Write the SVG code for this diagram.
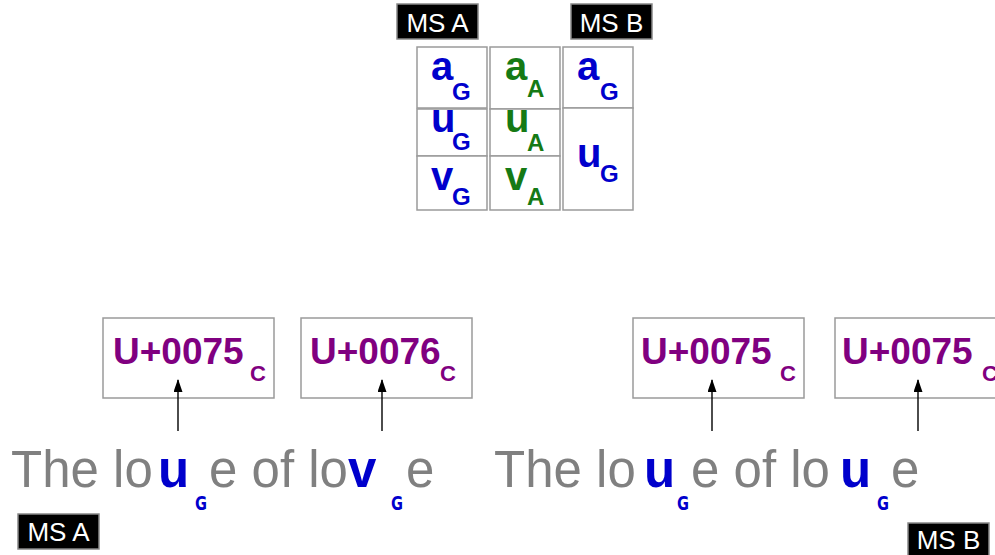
<svg xmlns="http://www.w3.org/2000/svg" width="995" height="555" viewBox="0 0 995 555">
  <style>
    .tag rect { fill: #000; stroke: #888; stroke-width: 1.5; }
    .tag text { fill: #fff; font-family: "Liberation Sans", Arial, sans-serif; font-size: 26px; text-anchor: middle; }
    .cell { fill: #fff; stroke: #9a9a9a; stroke-width: 1.5; }
    .big { font-family: "Liberation Sans", Arial, sans-serif; font-weight: bold; font-size: 40px; }
    .sub { font-family: "Liberation Sans", Arial, sans-serif; font-weight: bold; font-size: 24px; }
    .g { fill: #0000cc; }
    .a { fill: #157a15; }
    .cp rect { fill: #fff; stroke: #9a9a9a; stroke-width: 1.5; }
    .cp text { fill: #800080; font-family: "Liberation Sans", Arial, sans-serif; font-weight: bold; }
    .cp .code { font-size: 37px; }
    .cp .csub { font-size: 22px; }
    .line { fill: #808080; font-family: "Liberation Sans", Arial, sans-serif; font-size: 51px; }
    .hl { fill: #0000cc; font-family: "Liberation Sans", Arial, sans-serif; font-weight: bold; font-size: 51px; }
    .gs { fill: #0000cc; font-family: "DejaVu Sans", sans-serif; font-weight: bold; font-size: 19px; }
    .conn line { stroke: #000; stroke-width: 1.4; marker-end: url(#tip); }
  </style>
  <defs>
    <marker id="tip" markerWidth="13" markerHeight="9" refX="12" refY="4.5" orient="auto" markerUnits="userSpaceOnUse" viewBox="0 0 13 9">
      <path d="M0,0 L13,4.5 L0,9 Z" fill="#000"/>
    </marker>
  </defs>

  <!-- manuscript tags -->
  <g id="tag-top-a" class="tag"><rect x="397" y="4" width="81" height="35"/><text x="437.5" y="32">MS A</text></g>
  <g id="tag-top-b" class="tag"><rect x="571" y="4" width="81" height="35"/><text x="611.5" y="32">MS B</text></g>
  <g id="tag-bottom-a" class="tag"><rect x="18" y="514" width="81" height="35"/><text x="58.5" y="541">MS A</text></g>
  <g id="tag-bottom-b" class="tag"><rect x="908" y="523" width="81" height="35"/><text x="948.5" y="549">MS B</text></g>

  <!-- grapheme / allograph table -->
  <g id="col-ms-a">
    <rect class="cell" x="417" y="47" width="70" height="61"/>
    <rect class="cell" x="417" y="109" width="70" height="47"/>
    <rect class="cell" x="417" y="156" width="70" height="54"/>
    <text class="big g" x="431" y="80">a</text><text class="sub g" x="452" y="100">G</text>
    <text class="big g" x="431" y="132">u</text><text class="sub g" x="452" y="150">G</text>
    <text class="big g" x="431" y="190">v</text><text class="sub g" x="452" y="205">G</text>
  </g>
  <g id="col-allographs">
    <rect class="cell" x="490" y="47" width="70" height="62"/>
    <rect class="cell" x="490" y="109" width="70" height="47"/>
    <rect class="cell" x="490" y="156" width="70" height="54"/>
    <text class="big a" x="505" y="80">a</text><text class="sub a" x="527" y="97">A</text>
    <text class="big a" x="505" y="132">u</text><text class="sub a" x="527" y="151">A</text>
    <text class="big a" x="505" y="190">v</text><text class="sub a" x="527" y="205">A</text>
  </g>
  <g id="col-ms-b">
    <rect class="cell" x="563" y="47" width="70" height="61"/>
    <rect class="cell" x="563" y="108" width="70" height="102"/>
    <text class="big g" x="577" y="80">a</text><text class="sub g" x="600" y="100">G</text>
    <text class="big g" x="577" y="167">u</text><text class="sub g" x="600" y="182">G</text>
  </g>

  <!-- code point boxes -->
  <g id="cp-1" class="cp"><rect x="103" y="318" width="171" height="80"/><text class="code" x="113" y="364">U+0075</text><text class="csub" x="250" y="381">C</text></g>
  <g id="cp-2" class="cp"><rect x="301" y="318" width="171" height="80"/><text class="code" x="310" y="364">U+0076</text><text class="csub" x="440" y="381">C</text></g>
  <g id="cp-3" class="cp"><rect x="633" y="318" width="171" height="80"/><text class="code" x="641" y="364">U+0075</text><text class="csub" x="780" y="381">C</text></g>
  <g id="cp-4" class="cp"><rect x="835" y="318" width="171" height="80"/><text class="code" x="842" y="364">U+0075</text><text class="csub" x="982" y="381">C</text></g>

  <!-- pointers from the words up to the code points -->
  <g id="connectors" class="conn">
    <line x1="178" y1="431" x2="178" y2="380"/>
    <line x1="382" y1="431" x2="382" y2="380"/>
    <line x1="712" y1="431" x2="712" y2="380"/>
    <line x1="918" y1="431" x2="918" y2="380"/>
  </g>

  <!-- sentence as written in MS A -->
  <g id="sentence-a">
    <text class="line" x="11" y="487">The lo</text>
    <text class="hl" x="158" y="487">u</text>
    <text class="gs" x="195" y="510" textLength="12" lengthAdjust="spacingAndGlyphs">G</text>
    <text class="line" x="209" y="487">e of lo</text>
    <text class="hl" x="348" y="487">v</text>
    <text class="gs" x="391" y="510" textLength="12" lengthAdjust="spacingAndGlyphs">G</text>
    <text class="line" x="406" y="487">e</text>
  </g>

  <!-- sentence as written in MS B -->
  <g id="sentence-b">
    <text class="line" x="494" y="487">The lo</text>
    <text class="hl" x="644" y="487">u</text>
    <text class="gs" x="677" y="510" textLength="12" lengthAdjust="spacingAndGlyphs">G</text>
    <text class="line" x="691" y="487">e of lo</text>
    <text class="hl" x="840" y="487">u</text>
    <text class="gs" x="877" y="510" textLength="12" lengthAdjust="spacingAndGlyphs">G</text>
    <text class="line" x="891" y="487">e</text>
  </g>
</svg>
